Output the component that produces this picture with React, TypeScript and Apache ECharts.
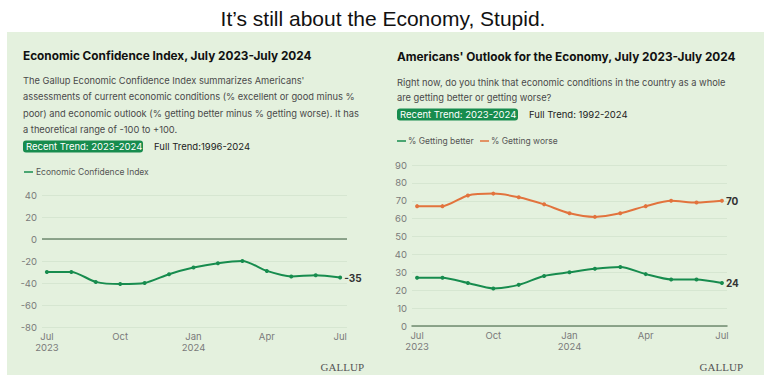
import React, { useEffect, useRef } from "react";
import * as echarts from "echarts";

const monthIdx = [0, 1, 2, 3, 4, 5, 6, 7, 8, 9, 10, 11, 12];
const tickPositions = [0, 3, 6, 9, 12];
const tickLabels = ["Jul\n2023", "Oct", "Jan\n2024", "Apr", "Jul"];
const confidence = [-30, -30, -39, -41, -40, -32, -26, -22, -20, -29, -34, -33, -35];
const gettingBetter = [27, 27, 24, 21, 23, 28, 30, 32, 33, 29, 26, 26, 24];
const gettingWorse = [67, 67, 73, 74, 72, 68, 63, 61, 63, 67, 70, 69, 70];

const GREEN = "#178c4e";
const ORANGE = "#e2733d";
const BG = "#e4f1de";
const FONT = "Inter, 'Noto Sans', sans-serif";

const leftPara = [
  "The Gallup Economic Confidence Index summarizes Americans'",
  "assessments of current economic conditions (% excellent or good minus %",
  "poor) and economic outlook (% getting better minus % getting worse). It has",
  "a theoretical range of -100 to +100.",
];
const rightPara = [
  "Right now, do you think that economic conditions in the country as a whole",
  "are getting better or getting worse?",
];

export default function App() {
  const ref = useRef<HTMLDivElement>(null);
  useEffect(() => {
    const chart = echarts.init(ref.current!, null, { renderer: "svg" });
    const txt = (x: number, y: number, text: string, style: any = {}) => ({
      type: "text",
      x,
      y,
      style: {
        text,
        fontFamily: FONT,
        fontSize: 9.3,
        fill: "#4a4a4a",
        textVerticalAlign: "middle",
        ...style,
      },
    });
    const graphics: any[] = [
      { type: "rect", shape: { x: 7, y: 32, width: 757, height: 343 }, style: { fill: BG } },
      txt(383, 18, "It\u2019s still about the Economy, Stupid.", {
        fontFamily: "'Liberation Sans', Arial, sans-serif",
        fontSize: 21,
        fill: "#111",
        textAlign: "center",
      }),
      // Left panel
      txt(23, 56, "Economic Confidence Index, July 2023-July 2024", {
        fontSize: 11.8,
        fontWeight: "bold",
        fill: "#111",
      }),
      ...leftPara.map((l, i) => txt(23, 80 + i * 16.5, l)),
      { type: "rect", shape: { x: 23, y: 140.5, width: 120, height: 12, r: 3 }, style: { fill: GREEN } },
      txt(26, 146.5, "Recent Trend: 2023-2024", { fill: "#fff", fontSize: 9.5 }),
      txt(154, 146.5, "Full Trend:1996-2024", { fill: "#222", fontSize: 9.5 }),
      { type: "line", shape: { x1: 24, y1: 172, x2: 33, y2: 172 }, style: { stroke: GREEN, lineWidth: 1.5 } },
      txt(36, 172, "Economic Confidence Index", { fontSize: 8.5, fill: "#555" }),
      txt(364, 367, "GALLUP", {
        fontFamily: "'Liberation Serif', 'DejaVu Serif', serif",
        fontSize: 11,
        fill: "#555",
        textAlign: "right",
      }),
      // Right panel
      txt(397, 57, "Americans' Outlook for the Economy, July 2023-July 2024", {
        fontSize: 11.8,
        fontWeight: "bold",
        fill: "#111",
      }),
      ...rightPara.map((l, i) => txt(397, 82 + i * 15.5, l)),
      { type: "rect", shape: { x: 397, y: 108.5, width: 121, height: 12, r: 3 }, style: { fill: GREEN } },
      txt(400, 114.5, "Recent Trend: 2023-2024", { fill: "#fff", fontSize: 9.5 }),
      txt(529, 114.5, "Full Trend: 1992-2024", { fill: "#222", fontSize: 9.5 }),
      { type: "line", shape: { x1: 397, y1: 141, x2: 406, y2: 141 }, style: { stroke: GREEN, lineWidth: 1.5 } },
      txt(408, 141, "% Getting better", { fontSize: 8.5, fill: "#555" }),
      { type: "line", shape: { x1: 480, y1: 141, x2: 489, y2: 141 }, style: { stroke: ORANGE, lineWidth: 1.5 } },
      txt(491, 141, "% Getting worse", { fontSize: 8.5, fill: "#555" }),
      txt(743, 367, "GALLUP", {
        fontFamily: "'Liberation Serif', 'DejaVu Serif', serif",
        fontSize: 11,
        fill: "#555",
        textAlign: "right",
      }),
    ];

    const xAxisBase = (gridIndex: number, max: number, showLine: boolean) => ({
      type: "value",
      gridIndex,
      min: -0.2,
      max,
      axisLine: { show: showLine, onZero: false, lineStyle: { color: "#6f8a6f", width: 1.5 } },
      axisTick: { show: false },
      splitLine: { show: false },
      axisLabel: {
        customValues: tickPositions,
        formatter: (v: number) => tickLabels[tickPositions.indexOf(Math.round(v))] ?? "",
        color: "#7a7a7a",
        fontFamily: FONT,
        fontSize: 9.5,
        lineHeight: 11,
        margin: 4,
      },
    });
    const yAxisBase = (gridIndex: number, min: number, max: number, interval: number) => ({
      type: "value",
      gridIndex,
      min,
      max,
      interval,
      axisLine: { show: false },
      axisTick: { show: false },
      splitLine: { lineStyle: { color: "#d6e6d1", width: 1 } },
      axisLabel: { color: "#7a7a7a", fontFamily: FONT, fontSize: 9.5, margin: 5 },
    });
    const lineSeries = (name: string, vals: number[], color: string, xi: number, extra: any = {}) => ({
      type: "line",
      name,
      xAxisIndex: xi,
      yAxisIndex: xi,
      data: vals.map((v, i) => [monthIdx[i], v]),
      smooth: 0.25,
      symbol: "circle",
      symbolSize: 4,
      lineStyle: { color, width: 2 },
      itemStyle: { color },
      endLabel: {
        show: true,
        formatter: (p: any) => String(p.value[1]),
        color: "#333",
        fontFamily: FONT,
        fontWeight: "bold",
        fontSize: 10,
        distance: 4,
      },
      ...extra,
    });

    chart.setOption({
      animation: false,
      grid: [
        { left: 42, right: 419, top: 195, bottom: 63 },
        { left: 412, right: 39, top: 165, bottom: 64 },
      ],
      xAxis: [xAxisBase(0, 12.28, false), xAxisBase(1, 12.2, true)],
      yAxis: [yAxisBase(0, -80, 40, 20), yAxisBase(1, 0, 90, 10)],
      series: [
        lineSeries("Economic Confidence Index", confidence, GREEN, 0, {
          markLine: {
            silent: true,
            symbol: "none",
            label: { show: false },
            lineStyle: { color: "#6f8a6f", type: "solid", width: 1.5 },
            data: [{ yAxis: 0 }],
          },
        }),
        lineSeries("% Getting better", gettingBetter, GREEN, 1),
        lineSeries("% Getting worse", gettingWorse, ORANGE, 1),
      ],
      graphic: graphics,
    });
    return () => chart.dispose();
  }, []);
  return <div ref={ref} style={{ position: "absolute", left: 0, top: 0, width: 766, height: 390 }} />;
}
